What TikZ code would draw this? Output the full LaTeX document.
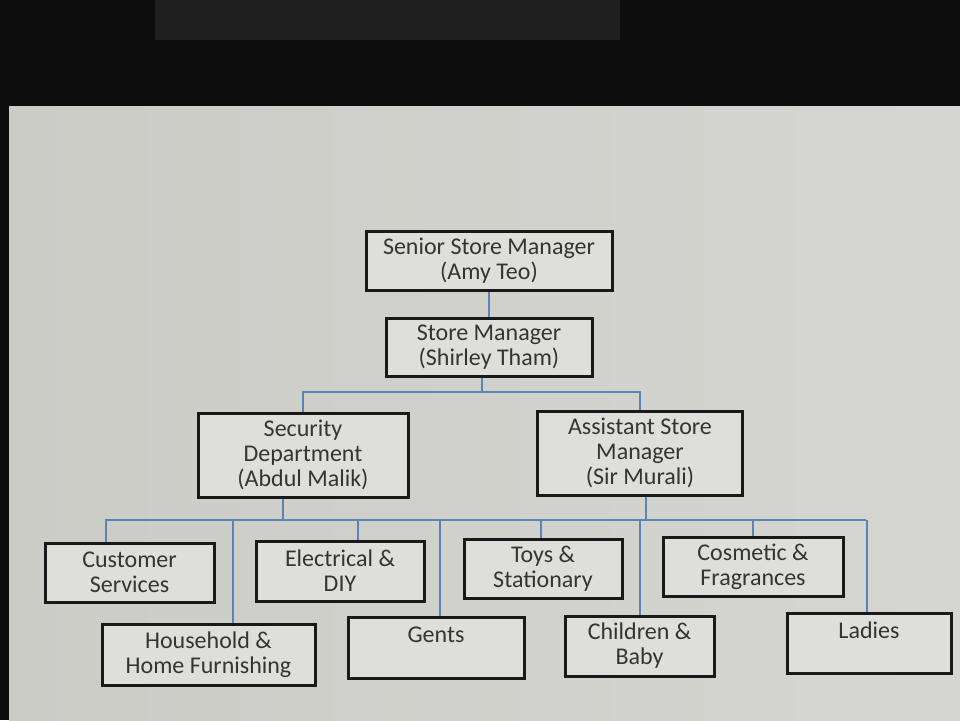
\documentclass[tikz,border=0pt]{standalone}
\usepackage{fontspec}
\setmainfont{Carlito}
\definecolor{screen}{RGB}{222,222,218}
\definecolor{screenedge}{RGB}{204,204,199}
\definecolor{wire}{RGB}{88,132,182}
\definecolor{ink}{RGB}{52,52,50}
\begin{document}
\begin{tikzpicture}[x=0.5pt,y=-0.5pt,
    box/.style={draw=black!90,line width=1.5pt,fill=screen,inner sep=0pt,align=center,text=ink,font=\fontsize{12pt}{12.5pt}\selectfont},
    link/.style={draw=wire,line width=1pt}]
            % Background
            \fill [black!95] (0,0) rectangle (960,720);
            \fill [black!88] (155,0) rectangle (620,40);
            \shade [left color=screenedge,middle color=screen,right color=screen!96!black] (9,106) rectangle (960,720);
            \useasboundingbox (0,0) rectangle (960,720);

            % Top
            \node [box,minimum width=123pt,minimum height=29.5pt] (ssm) at (489,261) {Senior Store Manager\\(Amy Teo)};
            \node [box,minimum width=103pt,minimum height=29pt] (sm) at (489,347) {Store Manager\\(Shirley Tham)};
            \node [box,minimum width=105pt,minimum height=42pt] (sec) at (303,455) {Security\\Department\\(Abdul Malik)};
            \node [box,minimum width=102.5pt,minimum height=42pt] (asm) at (640,453) {Assistant Store\\Manager\\(Sir Murali)};

            % Departments
            \node [box,minimum width=84.5pt,minimum height=29.5pt] (cs) at (129.5,572.5) {Customer\\Services};
            \node [box,minimum width=84pt,minimum height=30pt] (el) at (340,571) {Electrical \&\\DIY};
            \node [box,minimum width=79pt,minimum height=29.5pt] (ts) at (543,568.5) {Toys \&\\Stationary};
            \node [box,minimum width=90pt,minimum height=29.5pt] (cf) at (753,566.5) {Cosmetic \&\\Fragrances};
            \node [box,minimum width=106.5pt,minimum height=30.5pt] (hh) at (208.5,654.5) {Household \&\\Home Furnishing};
            \node [box,minimum width=88pt,minimum height=30.5pt] (gn) at (436,647.5) {Gents\\~};
            \node [box,minimum width=74.5pt,minimum height=30pt] (cb) at (639.5,646) {Children \&\\Baby};
            \node [box,minimum width=82pt,minimum height=30pt] (la) at (869,643) {Ladies\\~};

            % Lines
            \coordinate (b1) at (482,392);
            \coordinate (b2l) at (105,520);
            \coordinate (b2r) at (866,520);
            \draw [link] (ssm) -- (sm);
            \draw [link] (sm.south -| b1) -- (b1);
            \draw [link] (sec.north) |- (b1) -| (asm.north);
            \draw [link] (b2l) -- (b2r);
            \draw [link] ([xshift=-10pt]sec.south) -- ([xshift=-10pt]sec.south |- b2l);
            \draw [link] ([xshift=3pt]asm.south) -- ([xshift=3pt]asm.south |- b2l);
            \foreach \n/\s in {cs/-12,hh/12,el/9,gn/2,ts/-1,cb/0,cf/0,la/-1}
                \draw [link] ([xshift=\s pt]\n.north) -- ([xshift=\s pt]\n.north |- b2l);
        \end{tikzpicture}
\end{document}
